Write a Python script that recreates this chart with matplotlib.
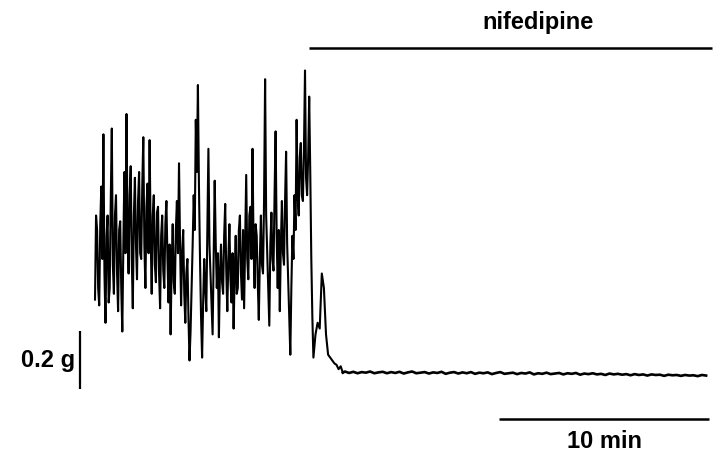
import numpy as np
import matplotlib
matplotlib.use('Agg')
import matplotlib.pyplot as plt

# spontaneous contractions (force in g), sampled every 0.05 min from 0 to 10.4 min
f_osc = [0.26, 0.55, 0.50, 0.30, 0.24, 0.52, 0.65, 0.40, 0.83, 0.35,
         0.18, 0.48, 0.55, 0.25, 0.30, 0.60, 0.85, 0.38, 0.28, 0.55,
         0.62, 0.35, 0.22, 0.50, 0.53, 0.30, 0.15, 0.45, 0.70, 0.42,
         0.90, 0.50, 0.35, 0.62, 0.72, 0.40, 0.23, 0.55, 0.68, 0.45,
         0.33, 0.60, 0.70, 0.42, 0.40, 0.65, 0.82, 0.45, 0.30, 0.58,
         0.66, 0.42, 0.81, 0.48, 0.28, 0.55, 0.62, 0.38, 0.32, 0.56,
         0.58, 0.35, 0.23, 0.48, 0.55, 0.36, 0.30, 0.52, 0.60, 0.40,
         0.25, 0.45, 0.14, 0.38, 0.52, 0.32, 0.28, 0.50, 0.60, 0.42,
         0.73, 0.45, 0.24, 0.42, 0.50, 0.28, 0.18, 0.35, 0.40, 0.20,
         0.05, 0.15, 0.30, 0.45, 0.62, 0.50, 0.88, 0.70, 1.00, 0.65,
         0.40, 0.20, 0.06, 0.25, 0.40, 0.30, 0.22, 0.50, 0.78, 0.45,
         0.35, 0.25, 0.14, 0.40, 0.67, 0.45, 0.30, 0.42, 0.13, 0.35,
         0.45, 0.32, 0.28, 0.48, 0.59, 0.36, 0.22, 0.40, 0.52, 0.33,
         0.25, 0.42, 0.16, 0.35, 0.48, 0.28, 0.30, 0.50, 0.55, 0.35,
         0.26, 0.50, 0.23, 0.45, 0.69, 0.40, 0.33, 0.55, 0.58, 0.40,
         0.78, 0.45, 0.30, 0.52, 0.48, 0.32, 0.19, 0.40, 0.55, 0.38,
         0.35, 0.60, 1.02, 0.55, 0.42, 0.30, 0.17, 0.45, 0.56, 0.40,
         0.36, 0.62, 0.84, 0.48, 0.30, 0.50, 0.22, 0.45, 0.60, 0.42,
         0.38, 0.60, 0.77, 0.45, 0.33, 0.20, 0.07, 0.30, 0.48, 0.40,
         0.62, 0.50, 0.88, 0.62, 0.55, 0.75, 0.80, 0.62, 0.60, 0.78,
         1.05, 0.68, 0.62, 0.75, 0.96, 0.70, 0.40, 0.20, 0.06]

# decay after nifedipine, every 0.1 min from 10.5 min
f_relax = [0.14, 0.18, 0.16, 0.35, 0.30, 0.14, 0.07, 0.06, 0.05, 0.04,
           0.035, 0.02, 0.03, 0.008]

# relaxed baseline, every 0.2 min from 11.9 min
f_flat = [0.012, 0.007, 0.011, 0.006, 0.010, 0.008, 0.012, 0.006, 0.009, 0.011,
          0.006, 0.010, 0.007, 0.011, 0.005, 0.009, 0.012, 0.006, 0.008, 0.010,
          0.005, 0.009, 0.007, 0.011, 0.004, 0.008, 0.010, 0.005, 0.009, 0.006,
          0.010, 0.004, 0.008, 0.006, 0.009, 0.003, 0.007, 0.010, 0.004, 0.006,
          0.008, 0.003, 0.007, 0.005, 0.009, 0.002, 0.006, 0.004, 0.008, 0.003,
          0.005, 0.007, 0.002, 0.006, 0.004, 0.007, 0.001, 0.005, 0.003, 0.006,
          0.002, 0.004, 0.000, 0.005, 0.002, 0.004, 0.001, 0.003, -0.001, 0.003,
          0.000, 0.002, -0.002, 0.002, 0.000, 0.001, -0.003, 0.001, -0.001, 0.000,
          -0.003, 0.000, -0.002, -0.001, -0.004, 0.000, -0.002]

t_osc = 0.05 * np.arange(len(f_osc))
t_relax = 10.5 + 0.1 * np.arange(len(f_relax))
t_flat = 11.9 + 0.2 * np.arange(len(f_flat))

drug_label = 'nifedipine'
drug_start = 10.2      # min
drug_end = 29.4
force_bar = 0.2        # g
time_bar = 10          # min

fig = plt.figure(figsize=(7.19, 4.61), dpi=100)
ax = fig.add_axes([0, 0, 1, 1])
ax.axis('off')

ax.plot(np.concatenate([t_osc, t_relax]), f_osc + f_relax, color='black', lw=1.5)
ax.plot(np.concatenate([t_relax[-1:], t_flat]), f_relax[-1:] + f_flat, color='black', lw=1.9)

font = dict(family='Liberation Sans', fontweight='bold', fontsize=17)

# drug application bar
ax.plot([drug_start, drug_end], [1.128, 1.128], color='black', lw=1.8, solid_capstyle='butt')
ax.text(21.1, 1.217, drug_label, ha='center', va='center', **font)

# scale bars
ax.plot([-0.71, -0.71], [-0.05, -0.05 + force_bar], color='black', lw=1.6, solid_capstyle='butt')
ax.text(-0.95, 0.05, '%.1f g' % force_bar, ha='right', va='center', **font)
ax.plot([19.24, 19.24 + time_bar], [-0.152, -0.152], color='black', lw=1.8, solid_capstyle='butt')
ax.text(19.24 + time_bar / 2, -0.228, '%d min' % time_bar, ha='center', va='center', **font)

ax.set_xlim(-4.524, 29.714)
ax.set_ylim(-0.2966, 1.2931)

plt.savefig('out.png', dpi=100)
